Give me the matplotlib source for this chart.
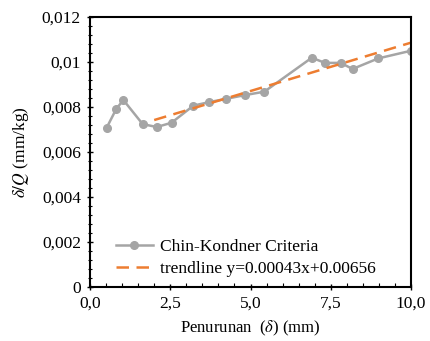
import matplotlib.pyplot as plt
from matplotlib.ticker import MultipleLocator, FuncFormatter

# data
penurunan = [0.52, 0.82, 1.04, 1.64, 2.08, 2.54, 3.22, 3.72, 4.23, 4.83, 5.43,
             6.91, 7.32, 7.81, 8.18, 8.98, 10.0]
delta_q = [0.00708, 0.00792, 0.00831, 0.00724, 0.00711, 0.00730, 0.00806, 0.00822,
           0.00836, 0.00853, 0.00868, 0.01019, 0.00996, 0.00996, 0.00969, 0.01016, 0.01050]
trend_x = [2.0, 10.0]
slope = 0.00043
intercept = 0.00656
trend_y = [slope * v + intercept for v in trend_x]

plt.rcParams['font.family'] = ['Liberation Serif', 'DejaVu Serif']
plt.rcParams['mathtext.fontset'] = 'stix'

fig = plt.figure(figsize=(4.3, 3.41), dpi=100)
ax = fig.add_axes([90 / 430, 1 - 287 / 341, 321 / 430, 270 / 341])

ax.plot(penurunan, delta_q, color='#A5A5A5', lw=1.8, marker='o', ms=5.5,
        label='Chin-Kondner Criteria')
ax.plot(trend_x, trend_y, color='#ED7D31', lw=1.8, ls=(0, (5, 3)),
        label='trendline y=0.00043x+0.00656')

ax.set_xlim(0, 10)
ax.set_ylim(0, 0.012)
ax.xaxis.set_major_locator(MultipleLocator(2.5))
ax.xaxis.set_minor_locator(MultipleLocator(0.5))
ax.yaxis.set_major_locator(MultipleLocator(0.002))
ax.yaxis.set_minor_locator(MultipleLocator(0.0004))


def yfmt(v, pos):
    if abs(v) < 1e-12:
        return '0'
    s = ('%.3f' % v).rstrip('0')
    return s.replace('.', ',')


ax.yaxis.set_major_formatter(FuncFormatter(yfmt))
ax.xaxis.set_major_formatter(FuncFormatter(lambda v, p: ('%.1f' % v).replace('.', ',')))

ax.tick_params(which='major', direction='inout', length=5, width=1, labelsize=12.5, pad=4)
ax.tick_params(axis='x', which='minor', direction='in', length=3, width=0.8)
ax.tick_params(axis='y', which='minor', direction='inout', length=3, width=0.8)
for s in ax.spines.values():
    s.set_linewidth(1.5)
    s.set_color('black')

ax.set_xlabel(r'Penurunan  ($\delta$) (mm)', fontsize=12, labelpad=5)
ax.set_ylabel(r'$\delta/Q$ (mm/kg)', fontsize=12.5, labelpad=8)

ax.legend(loc='lower left', bbox_to_anchor=(0.06, 0.01), frameon=False, fontsize=12.5,
          handlelength=2.1, borderaxespad=0, labelspacing=0.35, handletextpad=0.4)

fig.savefig('out.png', dpi=100)
